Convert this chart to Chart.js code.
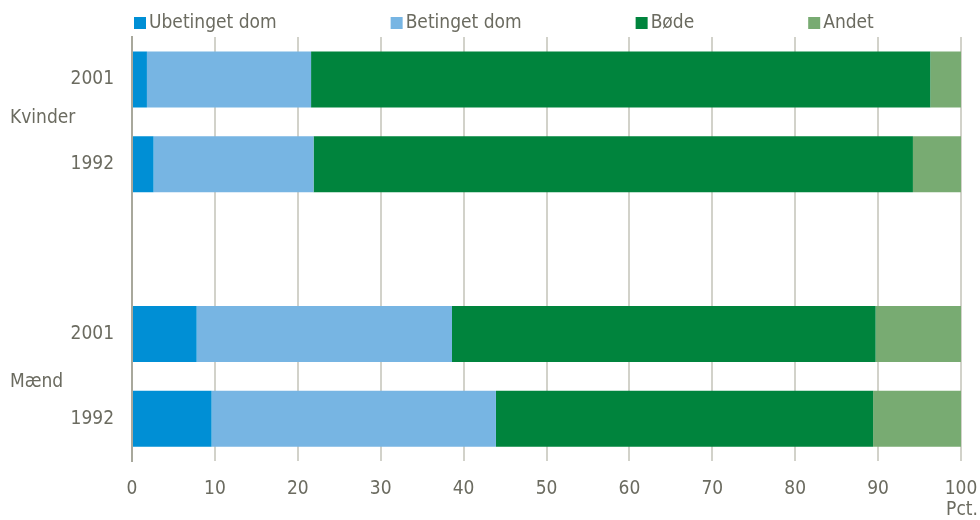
<!DOCTYPE html>
<html>
<head>
<meta charset="utf-8">
<script src="https://cdn.jsdelivr.net/npm/chart.js@4"></script>
<style>
  html, body { margin: 0; padding: 0; background: #fff; }
  #wrap { width: 980px; height: 520px; }
</style>
</head>
<body>
<div id="wrap"><canvas id="chart"></canvas></div>
<script>
// Data (pct.), top to bottom; the empty slot separates Kvinder and Mænd
const years = ["2001", "1992", "", "2001", "1992"];
const groups = ["Kvinder", "Mænd"];
const seriesNames = ["Ubetinget dom", "Betinget dom", "Bøde", "Andet"];
const ubetinget = [1.8, 2.6, null, 7.8, 9.6];
const betinget = [19.8, 19.3, null, 30.8, 34.3];
const boede = [74.7, 72.3, null, 51.1, 45.5];
const andet = [3.7, 5.8, null, 10.3, 10.6];
const xTicks = [0, 10, 20, 30, 40, 50, 60, 70, 80, 90, 100];

const colors = ["#008fd5", "#77b5e3", "#00843d", "#78ab72"];
const textColor = "#6b6b60";
const fontFamily = "'Liberation Sans Narrow', 'Arial Narrow', 'DejaVu Sans Condensed', sans-serif";

// Legend, group labels and the "Pct." unit
const extras = {
    id: "extras",
    afterDraw(c) {
        const ctx = c.ctx;
        const x = c.scales.x;
        const y = c.scales.y;
        ctx.save();
        ctx.font = "19px " + fontFamily;
        ctx.fillStyle = textColor;
        ctx.textBaseline = "middle";

        // legend
        let lx = c.chartArea.left + 2;
        c.data.datasets.forEach((ds) => {
            ctx.fillStyle = ds.backgroundColor;
            ctx.fillRect(lx, 17, 12, 12);
            ctx.fillStyle = textColor;
            ctx.textAlign = "left";
            ctx.fillText(ds.label, lx + 15, 23);
            lx += 15 + ctx.measureText(ds.label).width + 114;
        });

        // group labels
        const kv = (y.getPixelForValue(0) + y.getPixelForValue(1)) / 2;
        const ma = (y.getPixelForValue(3) + y.getPixelForValue(4)) / 2;
        ctx.fillText(groups[0], 10, kv - 4);
        ctx.fillText(groups[1], 10, ma + 6);

        // unit
        ctx.textAlign = "center";
        ctx.fillText("Pct.", x.getPixelForValue(100) + 1, 510);
        ctx.restore();
    }
};

const data = [ubetinget, betinget, boede, andet];

new Chart(document.getElementById("chart"), {
    type: "bar",
    data: {
        labels: years,
        datasets: seriesNames.map((name, i) => ({
            label: name,
            data: data[i],
            backgroundColor: colors[i],
            borderWidth: 0,
            categoryPercentage: 1,
            barPercentage: 0.66
        }))
    },
    options: {
        indexAxis: "y",
        responsive: true,
        maintainAspectRatio: false,
        animation: false,
        layout: { padding: { top: 37, right: 0, bottom: 4, left: 0 } },
        plugins: {
            legend: { display: false },
            tooltip: { enabled: false }
        },
        scales: {
            x: {
                stacked: true,
                min: 0,
                max: 100,
                afterBuildTicks: (s) => { s.ticks = xTicks.map(v => ({ value: v })); },
                afterFit: (s) => { s.paddingRight = 19; s.paddingLeft = 0; },
                grid: { color: "#d2d2ca", lineWidth: 2, drawTicks: false },
                border: { display: false },
                ticks: {
                    color: textColor,
                    padding: 16,
                    font: { family: fontFamily, size: 19 }
                }
            },
            y: {
                stacked: true,
                afterFit: (s) => { s.width = 132; },
                grid: { display: false, drawTicks: false },
                border: { display: true, color: "#a8a89c", width: 2 },
                ticks: {
                    color: textColor,
                    padding: 18,
                    font: { family: fontFamily, size: 19 }
                }
            }
        }
    },
    plugins: [extras]
});
</script>
</body>
</html>
